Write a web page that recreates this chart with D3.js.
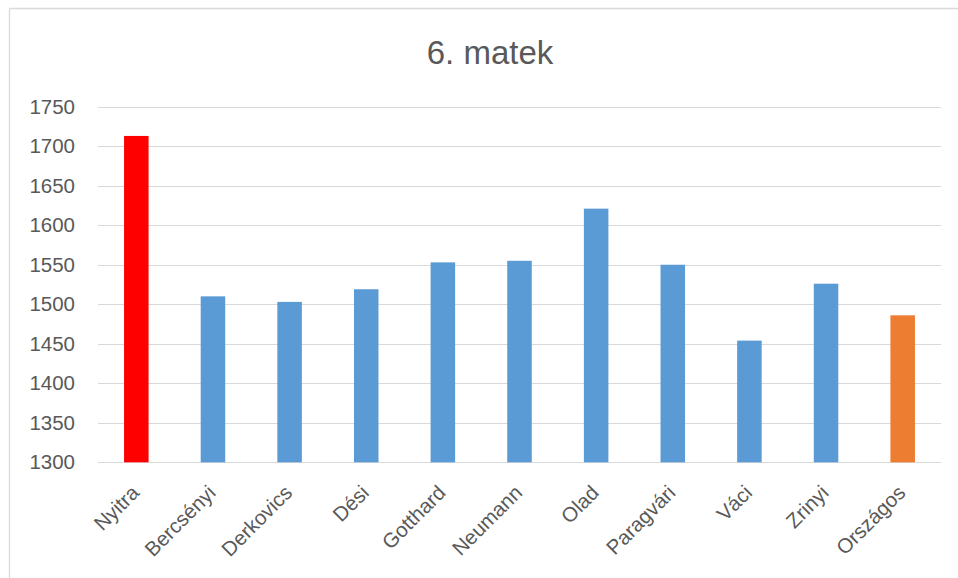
<!doctype html>
<html>
  <meta charset="utf-8">
  <head>
    <script src="https://d3js.org/d3.v7.min.js"></script>
    <style type='text/css'>
      body{ margin:0; background:#fff; }
      text{ font-family: "Liberation Sans", Arial, sans-serif; fill:#595959; }
      .grid line{ stroke:#d9d9d9; stroke-width:1.3; shape-rendering: crispEdges; }
      .grid path.domain{ display:none; }
    </style>
  </head>
  <body>
    <svg id="chart"></svg>
    <script type="text/javascript">
      // data
      var categories = ['Nyitra','Bercsényi','Derkovics','Dési','Gotthard','Neumann','Olad','Paragvári','Váci','Zrinyi','Országos'];
      var values = [1713,1510,1503,1519,1553,1555,1621,1550,1454,1526,1486];
      var barColors = ['#ff0000','#5b9bd5','#5b9bd5','#5b9bd5','#5b9bd5','#5b9bd5','#5b9bd5','#5b9bd5','#5b9bd5','#5b9bd5','#ed7d31'];
      var yTicks = [1300,1350,1400,1450,1500,1550,1600,1650,1700,1750];
      var title = '6. matek';

      var w = 958, h = 578;
      var plotL = 98, plotR = 941, plotT = 106.7, plotB = 462.3;

      var svg = d3.select('#chart').attr('width',w).attr('height',h);

      // outer frame (top and left edges visible)
      svg.append('line').attr('x1',9.5).attr('x2',w).attr('y1',8.5).attr('y2',8.5)
        .attr('stroke','#d9d9d9').attr('stroke-width',1.3);
      svg.append('line').attr('x1',9.5).attr('x2',9.5).attr('y1',8.5).attr('y2',h)
        .attr('stroke','#d9d9d9').attr('stroke-width',1.3);

      var xScale = d3.scaleBand().domain(categories).range([plotL,plotR]).paddingInner(0.68).paddingOuter(0.34);
      var yScale = d3.scaleLinear().domain([1300,1750]).range([plotB,plotT]);

      //gridlines
      var yGrid = d3.axisLeft(yScale).tickValues(yTicks).tickSize(-(plotR-plotL)).tickFormat('');
      svg.append('g').attr('class','grid').attr('transform','translate('+plotL+',0)').call(yGrid);

      //y labels
      svg.append('g').selectAll('text').data(yTicks).enter().append('text')
        .attr('x',75).attr('y',(d)=>{return yScale(d);}).attr('dy','0.35em')
        .attr('text-anchor','end').style('font-size','20.5px')
        .text((d)=>{return d;});

      //bars
      svg.append('g').selectAll('rect').data(values).enter().append('rect')
        .attr('x',(d,i)=>{return xScale(categories[i]);})
        .attr('width',xScale.bandwidth())
        .attr('y',(d)=>{return yScale(d);})
        .attr('height',(d)=>{return yScale(1300)-yScale(d);})
        .attr('fill',(d,i)=>{return barColors[i];});

      //x labels
      svg.append('g').selectAll('text').data(categories).enter().append('text')
        .attr('text-anchor','end').style('font-size','20.5px')
        .attr('transform',(d)=>{
          var cx = xScale(d)+xScale.bandwidth()/2;
          return 'translate('+(cx+4)+',494) rotate(-45)';
        })
        .text((d)=>{return d;});

      //title
      svg.append('text').attr('x',490).attr('y',64).attr('text-anchor','middle')
        .style('font-size','33px').text(title);
    </script>
  </body>
</html>
